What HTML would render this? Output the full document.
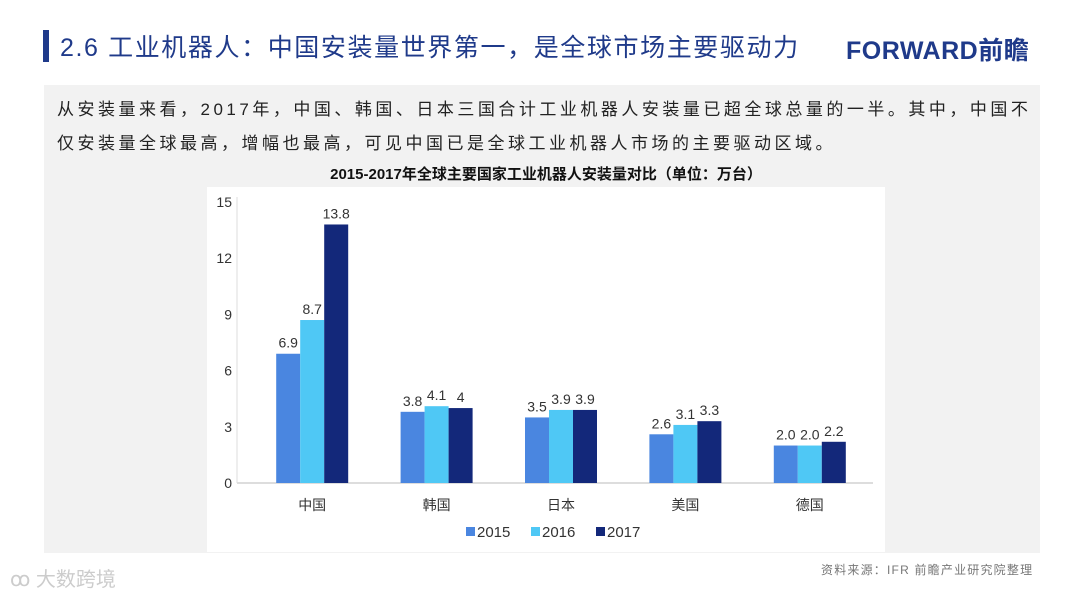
<!DOCTYPE html>
<html><head><meta charset="utf-8"><style>
body{margin:0;width:1080px;height:595px;background:#fff;position:relative;overflow:hidden;font-family:"Liberation Sans","Noto Sans CJK SC",sans-serif}
.a{position:absolute}
</style></head><body>
<div class="a" style="left:43px;top:30px;width:6px;height:32px;background:#1f3a8a"></div>
<div class="a" style="left:60px;top:28px;font-size:25px;letter-spacing:1.6px;color:#1f3a8a;white-space:nowrap">2.6 工业机器人：中国安装量世界第一，是全球市场主要驱动力</div>
<div class="a" style="left:846px;top:31px;font-size:25px;font-weight:bold;letter-spacing:0.5px;color:#1f3a8a;white-space:nowrap">FORWARD前瞻</div>
<div class="a" style="left:44px;top:85px;width:996px;height:468px;background:#f2f2f2"></div>
<div class="a" style="left:57px;top:93px;width:990px;font-size:17px;letter-spacing:3.5px;line-height:34px;color:#222;white-space:nowrap">从安装量来看，2017年，中国、韩国、日本三国合计工业机器人安装量已超全球总量的一半。其中，中国不<br>仅安装量全球最高，增幅也最高，可见中国已是全球工业机器人市场的主要驱动区域。</div>
<div class="a" style="left:207px;top:163px;width:678px;text-align:center;font-size:15px;font-weight:bold;color:#111">2015-2017年全球主要国家工业机器人安装量对比（单位：万台）</div>
<div class="a" style="left:207px;top:187px;width:678px;height:365px;background:#fff"></div>
<svg class="a" style="left:0;top:0" width="1080" height="595" id="chart"></svg>
<div class="a" style="left:821px;top:561px;font-size:12px;letter-spacing:1.2px;color:#777">资料来源：IFR 前瞻产业研究院整理</div>
<div class="a" style="left:10px;top:563px;font-size:20px;color:#ccc">ꝏ 大数跨境</div>
<script>
const categories=["中国","韩国","日本","美国","德国"];
const series2015=[6.9,3.8,3.5,2.6,2.0];
const series2016=[8.7,4.1,3.9,3.1,2.0];
const series2017=[13.8,4,3.9,3.3,2.2];
const labels2015=["6.9","3.8","3.5","2.6","2.0"];
const labels2016=["8.7","4.1","3.9","3.1","2.0"];
const labels2017=["13.8","4","3.9","3.3","2.2"];
const yTicks=[0,3,6,9,12,15];
const seriesNames=["2015","2016","2017"];
const colors=["#4a86e0","#4fc8f5","#13287a"];
const svg=document.getElementById('chart');const NS="http://www.w3.org/2000/svg";
const y0=483,y1=202,ymax=15;const y=v=>y0-(v/ymax)*(y0-y1);
const bandL=250,bandW=124.4,bw=24;const cx=i=>bandL+bandW*(i+0.5);
function mk(t,a){const e=document.createElementNS(NS,t);for(const k in a)e.setAttribute(k,a[k]);svg.appendChild(e);return e;}
const ax=mk('line',{x1:237,x2:873,y1:y0,y2:y0,stroke:'#bbb'});

const ay=mk('line',{x1:237,x2:237,y1:y1-5,y2:y0,stroke:'#ddd'});

yTicks.forEach(v=>{const t=mk('text',{x:232,y:y(v)+5,'text-anchor':'end','font-size':14,fill:'#333'});t.textContent=v;
});
const all=[series2015,series2016,series2017],lab=[labels2015,labels2016,labels2017];
categories.forEach((c,i)=>{
 all.forEach((s,j)=>{const x=cx(i)-36+j*bw;
  const r=mk('rect',{x:x,y:y(s[i]),width:bw,height:y0-y(s[i]),fill:colors[j]});
  
  const t=mk('text',{x:x+bw/2,y:y(s[i])-6,'text-anchor':'middle','font-size':14,fill:'#333'});t.textContent=lab[j][i];
  });
 const t=mk('text',{x:cx(i),y:510,'text-anchor':'middle','font-size':14,fill:'#333'});t.textContent=c;
 
});
seriesNames.forEach((n,j)=>{const x=466+j*65;
 const r=mk('rect',{x:x,y:527,width:9,height:9,fill:colors[j]});
 
 const t=mk('text',{x:x+11,y:537,'font-size':15,fill:'#333'});t.textContent=n;
 });
</script>
</body></html>
